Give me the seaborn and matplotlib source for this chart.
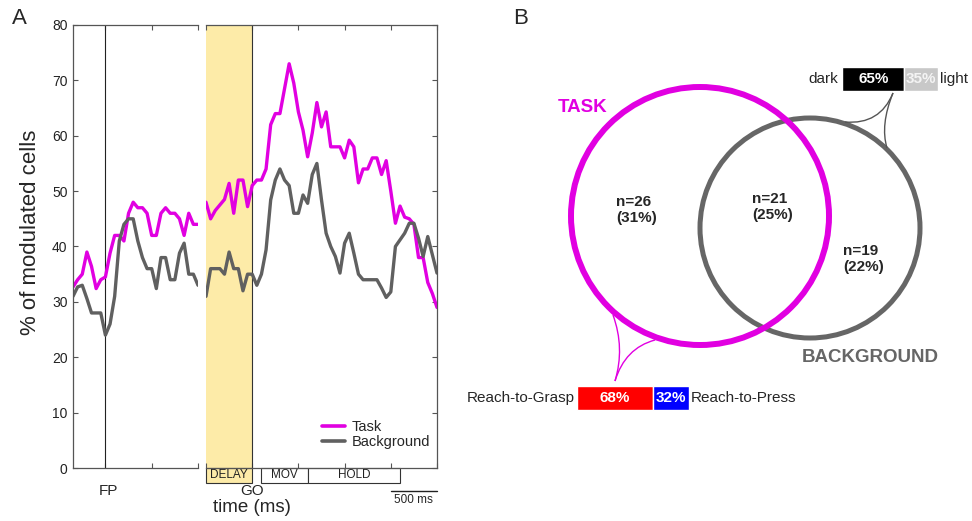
import numpy as np
import matplotlib
matplotlib.use("Agg")
import matplotlib.pyplot as plt
import matplotlib.transforms as mtransforms
import seaborn as sns
from matplotlib.patches import Circle, Rectangle, PathPatch
from matplotlib.path import Path
from matplotlib.lines import Line2D

# Style
sns.set_theme(style="ticks")
plt.rcParams['font.family'] = ['Liberation Sans', 'DejaVu Sans']

W, H = 972, 521
MAGENTA = '#E100E1'
GRAY = '#606060'
YELLOW = '#FDEBA8'

# Panel A data: % of modulated cells, 50 ms bins
t_fp = np.arange(-350, 1001, 50)  # aligned on FP
task_fp = [32.7, 34, 35, 39, 36.4, 32.4, 34, 34.5, 38.8, 42, 42, 41, 46, 48,
           47, 47, 46, 42, 42, 46, 47, 46, 46, 45, 42, 46, 44, 44]
bg_fp = [31, 32.7, 33, 30.6, 28, 28, 28, 24, 26, 31, 41, 44, 45, 45,
         41, 38, 36, 36, 32.4, 38, 38, 34, 34, 38.8, 40.6, 35, 35, 33]

t_go = np.arange(-500, 2001, 50)  # aligned on GO
task_go = [48, 45, 46.5, 47.5, 48.5, 51.4, 46, 52, 52, 47.2, 51, 52, 52, 54,
           62, 64, 64, 68.5, 73, 69.5, 64.3, 61, 56.2, 60.5, 66, 61.6, 64.3,
           58, 58, 58, 56, 59.2, 58, 51.5, 54, 54, 56, 56, 53, 55.5, 50, 44.2,
           47.3, 45.3, 45, 44, 38, 38, 33.5, 31.5, 29]
bg_go = [31, 36, 36, 36, 35, 39, 36, 36, 32, 35, 35, 33, 35, 39.4, 48.4, 52,
         54, 52, 51, 46, 46, 49.3, 47.8, 53, 55, 48.4, 42.4, 40, 38.2, 35.2,
         40.6, 42.4, 38.8, 35, 34, 34, 34, 34, 32.5, 30.8, 31.8, 40, 41.2,
         42.4, 44.2, 44.2, 41.5, 38.2, 41.8, 38.5, 35.2]

epochs = ['DELAY', 'MOV', 'HOLD']
epoch_start = [-500, 100, 600]
epoch_end = [0, 600, 1600]
scale_bar_ms = 500

# Panel B data
venn_n = [26, 21, 19]
venn_pct = [31, 25, 22]
grasp_press = [68, 32]
grasp_press_labels = ['Reach-to-Grasp', 'Reach-to-Press']
dark_light = [65, 35]
dark_light_labels = ['dark', 'light']


def fig_box(x0, y0, x1, y1):
    return [x0 / W, 1 - y1 / H, (x1 - x0) / W, (y1 - y0) / H]


def panel_a(fig):
    ax1 = fig.add_axes(fig_box(73, 25, 198, 468))
    ax2 = fig.add_axes(fig_box(206, 25, 437, 468))

    ax2.axvspan(epoch_start[0], epoch_end[0], color=YELLOW, lw=0, zorder=0)
    ax1.axvline(0, color='#222222', lw=0.8, zorder=1)
    ax2.axvline(0, color='#333333', lw=0.8, zorder=1)

    sns.lineplot(x=t_fp, y=task_fp, ax=ax1, color=MAGENTA, lw=2.4)
    sns.lineplot(x=t_fp, y=bg_fp, ax=ax1, color=GRAY, lw=2.4)
    sns.lineplot(x=t_go, y=task_go, ax=ax2, color=MAGENTA, lw=2.4)
    sns.lineplot(x=t_go, y=bg_go, ax=ax2, color=GRAY, lw=2.4)

    ax1.set_xlim(-350, 1000)
    ax2.set_xlim(-500, 2000)
    ax1.set_xticks([0, 500, 1000])
    ax2.set_xticks([-500, 0, 500, 1000, 1500, 2000])
    for ax in (ax1, ax2):
        ax.set_ylim(0, 80)
        ax.set_yticks(range(0, 81, 10))
        ax.set_xlabel('')
        ax.set_ylabel('')
        ax.tick_params(direction='in', length=3.5, width=0.8, color='#555555',
                       labelcolor='#222222', labelsize=10,
                       top=True, bottom=True, labelbottom=False)
        for sp in ax.spines.values():
            sp.set_color('#555555')
            sp.set_linewidth(0.9)
    ax1.spines['right'].set_visible(False)
    ax2.spines['left'].set_visible(False)
    ax1.tick_params(axis='y', left=True, right=False, labelleft=True, pad=4)
    ax2.tick_params(axis='y', left=False, right=True, labelleft=False)

    # epoch boxes below the axis
    trans = mtransforms.blended_transform_factory(ax2.transData, ax2.transAxes)
    bh = 15 / 443
    for name, s, e in zip(epochs, epoch_start, epoch_end):
        fc = YELLOW if name == 'DELAY' else 'white'
        ax2.add_patch(Rectangle((s, -bh), e - s, bh, transform=trans, clip_on=False,
                                fc=fc, ec='#333333', lw=0.8))
        ax2.text((s + e) / 2, -bh / 2, name, transform=trans, ha='center',
                 va='center', fontsize=8.5, color='#222222')

    # 500 ms scale bar
    yb = -23 / 443
    ax2.plot([2000 - scale_bar_ms, 2000], [yb, yb], transform=trans,
             clip_on=False, color='#222222', lw=1)
    ax2.text(2000 - scale_bar_ms / 2, -32 / 443, f'{scale_bar_ms} ms',
             transform=trans, ha='center', va='center', fontsize=8.5)

    ax2.legend(handles=[Line2D([], [], color=MAGENTA, lw=2.6),
                        Line2D([], [], color=GRAY, lw=2.6)],
               labels=['Task', 'Background'], loc='upper left',
               bbox_to_anchor=(322 / W, 1 - 420 / H),
               bbox_transform=fig.transFigure, frameon=False, fontsize=10.5,
               handlelength=1.6, handletextpad=0.45, labelspacing=0.05,
               borderpad=0, borderaxespad=0)
    return ax1, ax2


def curve(ax, tip, ctrl, end, color):
    path = Path([tip, ctrl, end], [Path.MOVETO, Path.CURVE3, Path.CURVE3])
    ax.add_patch(PathPatch(path, fill=False, ec=color, lw=1))


def panel_b(axb):
    # Venn circles
    axb.add_patch(Circle((810, 228), 110, fill=False, ec='#666666', lw=3.6))
    axb.add_patch(Circle((700, 216), 129, fill=False, ec=MAGENTA, lw=4.3))
    axb.text(558, 107, 'TASK', color=MAGENTA, fontsize=13.5, fontweight='bold',
             ha='left', va='center')
    axb.text(802, 358, 'BACKGROUND', color='#666666', fontsize=13.5,
             fontweight='bold', ha='left', va='center')

    pos = [(616, 195), (752, 192), (843, 244)]
    for (x, y), n, p in zip(pos, venn_n, venn_pct):
        axb.text(x, y, f'n={n}\n({p}%)', ha='left', va='top', fontsize=11,
                 fontweight='bold', linespacing=1.15)

    # dark / light bar
    y_top, left_top, k_top = 79, 842, 0.96
    w = [v * k_top for v in dark_light]
    axb.barh(y_top, w[0], left=left_top, height=23.4, color='black')
    axb.barh(y_top, w[1], left=left_top + w[0], height=23.4, color='#C8C8C8')
    axb.text(left_top + w[0] / 2, y_top, f'{dark_light[0]}%', color='white',
             ha='center', va='center', fontsize=11, fontweight='bold')
    axb.text(left_top + w[0] + w[1] / 2, y_top, f'{dark_light[1]}%',
             color='#F4F4F4', ha='center', va='center', fontsize=11,
             fontweight='bold')
    axb.text(left_top - 4, y_top, dark_light_labels[0], ha='right',
             va='center', fontsize=11)
    axb.text(left_top + w[0] + w[1] + 2, y_top, dark_light_labels[1],
             ha='left', va='center', fontsize=11)
    curve(axb, (893, 93), (880, 125), (845, 122), '#555555')
    curve(axb, (893, 93), (880, 125), (887, 148), '#555555')

    # grasp / press bar
    y_bot, left_bot, k_bot = 398, 577, 1.12
    w = [v * k_bot for v in grasp_press]
    axb.barh(y_bot, w[0], left=left_bot, height=23.4, color='#FF0000')
    axb.barh(y_bot, w[1], left=left_bot + w[0], height=23.4, color='#0000FF')
    axb.text(left_bot + w[0] / 2, y_bot, f'{grasp_press[0]}%', color='white',
             ha='center', va='center', fontsize=11, fontweight='bold')
    axb.text(left_bot + w[0] + w[1] / 2, y_bot, f'{grasp_press[1]}%',
             color='white', ha='center', va='center', fontsize=11,
             fontweight='bold')
    axb.text(left_bot - 2, y_bot, grasp_press_labels[0], ha='right',
             va='center', fontsize=11)
    axb.text(left_bot + w[0] + w[1] + 2, y_bot, grasp_press_labels[1],
             ha='left', va='center', fontsize=11)
    curve(axb, (615, 381), (625, 348), (613, 315), MAGENTA)
    curve(axb, (615, 381), (625, 348), (655, 340), MAGENTA)


def main():
    fig = plt.figure(figsize=(W / 100, H / 100), dpi=100)
    panel_a(fig)

    # overlay axes in pixel coordinates
    axb = fig.add_axes([0, 0, 1, 1])
    axb.set_xlim(0, W)
    axb.set_ylim(H, 0)
    axb.axis('off')
    axb.patch.set_alpha(0)

    axb.text(19, 18, 'A', fontsize=16, ha='center', va='center')
    axb.text(521, 19, 'B', fontsize=16, ha='center', va='center')
    axb.text(30, 232, '% of modulated cells', rotation=90, fontsize=16,
             ha='center', va='center')
    axb.text(108, 491, 'FP', fontsize=11, ha='center', va='center')
    axb.text(252, 491, 'GO', fontsize=11, ha='center', va='center')
    axb.text(252, 507, 'time (ms)', fontsize=13.5, ha='center', va='center')

    panel_b(axb)
    fig.savefig('out.png', dpi=100)
    plt.close(fig)


if __name__ == "__main__":
    main()
